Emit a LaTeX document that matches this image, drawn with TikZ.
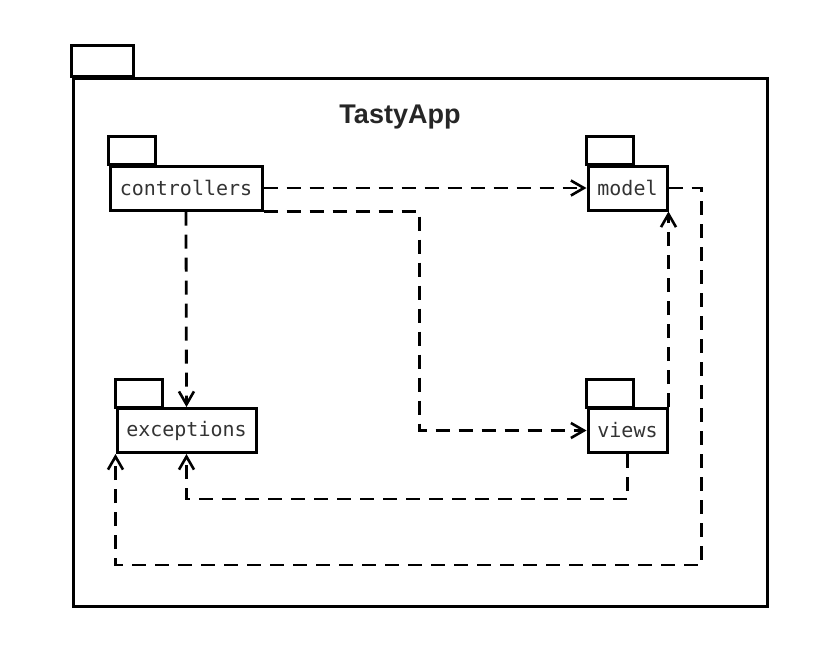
\documentclass[tikz,border=0pt]{standalone}
\usepackage{fontspec}
\setmainfont{Liberation Sans}
\setmonofont{DejaVu Sans Mono}
\usetikzlibrary{arrows.meta,positioning}
\pgfmathsetmacro{\tabwidth}{47}
\pgfmathsetmacro{\tabheight}{28}
\tikzset{
  pkg/.style={draw, line width=3pt, minimum height=44pt, inner sep=0pt,
    font=\ttfamily\fontsize{20}{22}\selectfont, text=black!80},
  dep/.style={line width=2.8pt, dash pattern=on 14pt off 9pt,
    -{Straight Barb[length=13pt,width=15pt,line width=2.6pt]}},
}

\begin{document}
\begin{tikzpicture}[x=1pt, y=-1pt]
    \useasboundingbox (0,0) rectangle (817,651);
    % outer package
    \node[draw, line width=3pt, minimum width=694pt, minimum height=528pt,
      inner sep=0pt] (tastyapp) at (420,342) {};
    \draw[line width=3pt] (tastyapp.north west) rectangle ++(62,-31);
    \node[font=\bfseries\fontsize{27}{30}\selectfont, text=black!85] (title)
      at (400,117) {TastyApp};
    % define packages
    \node[pkg, minimum width=152pt] (controllers) at (186,188) {controllers};
    \node[pkg, minimum width=79pt] (model) at (627.5,188) {model};
    \node[pkg, minimum width=139pt] (exceptions) at (186.5,430.5) {exceptions};
    \node[pkg, minimum width=79pt] (views) at (627.5,430.5) {views};
    % draw tabs
    \foreach \p in {controllers, model, exceptions, views}
        \draw[line width=3pt] (\p.north west) rectangle ++(\tabwidth,-\tabheight);
    % draw dependencies
    \draw[dep] (controllers.east) -- (model.west);
    \draw[dep] (controllers.south east) -- ++(156,0) |- (views.west);
    \draw[dep] (controllers.south) -- (exceptions.north);
    \draw[dep] (views.north east) -- (model.south east);
    \draw[dep] (views.south) -- ++(0,45) -| (exceptions.south);
    \draw[dep] (model.east) -- ++(33,0) -- ++(0,377) -| (exceptions.south west);
\end{tikzpicture}
\end{document}
